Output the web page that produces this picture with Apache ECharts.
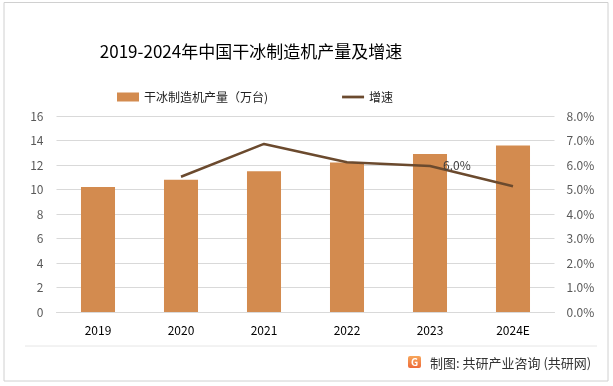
<!DOCTYPE html>
<html><head><meta charset="utf-8">
<script src="https://cdn.jsdelivr.net/npm/echarts@6/dist/echarts.min.js"></script>
<style>html,body{margin:0;padding:0;background:#fff}#c{width:613px;height:386px}</style>
</head><body><div id="c"></div>
<script>
const categories = ['2019','2020','2021','2022','2023','2024E'];
const output = [10.2, 10.8, 11.5, 12.2, 12.9, 13.6];
const growth = [null, 5.52, 6.86, 6.11, 5.96, 5.13];
const leftTicks = [0,2,4,6,8,10,12,14,16];
const rightTicks = ['0.0%','1.0%','2.0%','3.0%','4.0%','5.0%','6.0%','7.0%','8.0%'];
const labelIndex = 4;

const font = '"Noto Sans CJK SC", "Noto Sans", sans-serif';
const chart = echarts.init(document.getElementById('c'), null, {renderer:'canvas'});
chart.setOption({
  animation:false,
  backgroundColor:'#fff',
  title:{text:'2019-2024年中国干冰制造机产量及增速', left:246, top:38, textAlign:'center',
    textStyle:{fontFamily:font, fontSize:17, fontWeight:'normal', color:'#000'}},
  legend:{top:86, left:112, itemGap:74, itemWidth:22, itemHeight:9,
    textStyle:{fontFamily:font, fontSize:12, color:'#222'},
    data:[{name:'干冰制造机产量（万台)', icon:'rect'},{name:'增速', icon:'path://M0,4 L24,4 L24,7 L0,7 Z'}]},
  grid:{left:56.5, right:58.5, top:116, bottom:74},
  xAxis:{type:'category', data:categories,
    axisLine:{lineStyle:{color:'#d9d9d9'}}, axisTick:{show:false},
    axisLabel:{color:'#000', fontSize:12, fontFamily:font, margin:12}},
  yAxis:[
    {type:'value', min:0, max:16, interval:2,
      axisLabel:{color:'#595959', fontSize:12, fontFamily:font, margin:13,
        formatter:v=>String(leftTicks[v/2])},
      splitLine:{lineStyle:{color:'#d9d9d9'}}, axisLine:{show:false}, axisTick:{show:false}},
    {type:'value', min:0, max:8, interval:1,
      axisLabel:{color:'#595959', fontSize:12, fontFamily:font, margin:12,
        formatter:v=>rightTicks[v]},
      splitLine:{show:false}, axisLine:{show:false}, axisTick:{show:false}}
  ],
  series:[
    {name:'干冰制造机产量（万台)', type:'bar', data:output, barWidth:'41%',
      itemStyle:{color:'#D38B4F'}},
    {name:'增速', type:'line', yAxisIndex:1,
      data:growth.map((v,i)=>i===labelIndex?{value:v,label:{show:true}}:v),
      symbol:'circle', symbolSize:0, showSymbol:true, connectNulls:false,
      lineStyle:{color:'#6B4A2E', width:2.5}, itemStyle:{color:'#6B4A2E'},
      label:{show:false, position:'right', distance:6, offset:[7,-1], color:'#404040', fontSize:12, fontFamily:font,
        formatter:p=>Number(p.value).toFixed(1)+'%'}}
  ],
  graphic:[
    {type:'rect', shape:{x:4, y:2.5, width:604, height:378.5}, style:{fill:'none', stroke:'#d0d0d0', lineWidth:1}, silent:true},
    {type:'line', shape:{x1:25, y1:346, x2:597, y2:346}, style:{stroke:'#e6e6e6', lineWidth:1}},
    {type:'rect', shape:{x:408, y:356, width:13, height:12, r:2},
      style:{fill:new echarts.graphic.LinearGradient(0,0,0,1,[{offset:0,color:'#F7A65A'},{offset:1,color:'#EE6A3A'}])}},
    {type:'text', x:414.5, y:362, style:{text:'G', fill:'#fff', fontSize:10, fontWeight:'bold', fontFamily:font, align:'center', verticalAlign:'middle'}},
    {type:'text', x:430, y:363, style:{text:'制图: 共研产业咨询 (共研网)', fill:'#333', fontSize:13, fontFamily:font, verticalAlign:'middle'}}
  ]
});
</script></body></html>
